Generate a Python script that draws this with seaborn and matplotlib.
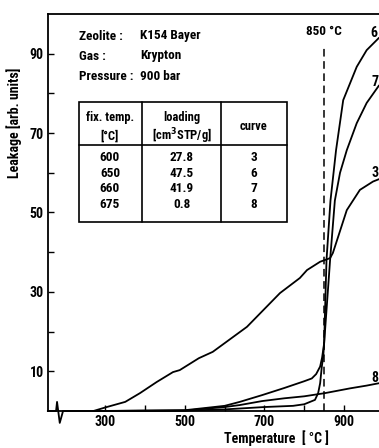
import numpy as np
import pandas as pd
import matplotlib
matplotlib.use("Agg")
import matplotlib.pyplot as plt
from matplotlib.lines import Line2D
from matplotlib.patches import Rectangle
from matplotlib import font_manager
import seaborn as sns

# ---------------- data ----------------
T3 = [270, 300, 350, 387, 429, 470, 487, 535, 570, 656, 739, 789, 807, 840, 865, 872, 885, 907, 940, 973, 988]
v3 = [0.0, 0.9, 2.3, 4.5, 7.3, 9.8, 10.3, 13.3, 14.9, 21.2, 29.7, 33.5, 35.5, 37.6, 38.5, 39.8, 43.8, 50.6, 55.7, 57.8, 58.4]

T6 = [280, 500, 600, 700, 772, 800, 827, 835, 840, 844, 848, 850, 856, 866, 880, 898, 932, 957, 988]
v6 = [0.0, 0.1, 0.4, 1.0, 1.3, 1.7, 2.8, 4.5, 7.0, 11.0, 14.0, 17.0, 38.0, 53.0, 65.7, 78.3, 86.7, 90.9, 94.0]

T7 = [280, 500, 555, 600, 638, 694, 750, 800, 819, 830, 840, 845, 850, 865, 877, 890, 907, 932, 957, 988]
v7 = [0.0, 0.2, 0.8, 1.3, 2.3, 4.0, 5.8, 7.5, 8.2, 9.3, 11.2, 13.5, 17.0, 38.0, 53.0, 60.0, 65.7, 72.5, 77.6, 82.0]

T8 = [280, 500, 555, 600, 638, 694, 750, 800, 852, 915, 957, 988]
v8 = [0.0, 0.1, 0.6, 1.0, 1.5, 2.5, 3.2, 3.7, 4.5, 5.7, 6.4, 7.0]

T_base = [155, 176, 178.5, 185.3, 193.6, 280]
v_base = [0.0, 0.0, 2.3, -3.0, 0.0, 0.0]

curve_ids = ["3", "6", "7", "8"]
label_T = [978, 975, 978, 978]
label_v = [60.0, 95.2, 82.9, 8.4]

mark_T = 850
mark_top = 92
mark_text = "850 °C"

x_ticks_major = [300, 500, 700, 900]
x_ticks_minor = [400, 600, 800]
y_ticks_major = [10, 30, 50, 70, 90]
y_ticks_minor = [20, 40, 60, 80]

info_keys = ["Zeolite :", "Gas :", "Pressure :"]
info_vals = ["K154 Bayer", "Krypton", "900 bar"]

tab_head1 = ["fix. temp.", "loading", ""]
tab_head2 = ["[°C]", "[cm$^3$STP/g]", ""]
tab_fix_temp = ["600", "650", "660", "675"]
tab_loading = ["27.8", "47.5", "41.9", "0.8"]
tab_curve = ["3", "6", "7", "8"]

# ---------------- build frame ----------------
frames = []
for cid, T, v in zip(["3", "6", "7", "8", "base"], [T3, T6, T7, T8, T_base], [v3, v6, v7, v8, v_base]):
    frames.append(pd.DataFrame({"T": T, "v": v, "curve": cid}))
df = pd.concat(frames, ignore_index=True)

# ---------------- style ----------------
sns.set_style("ticks")
names = {f.name for f in font_manager.fontManager.ttflist}
cands = ["Liberation Sans Narrow", "DejaVu Sans Condensed", "Roboto Condensed",
         "Open Sans Condensed", "Noto Sans Condensed", "DejaVu Sans"]
FONT = [c for c in cands if c in names] or ["DejaVu Sans"]
plt.rcParams["font.family"] = FONT
plt.rcParams["font.weight"] = "bold"
plt.rcParams["font.stretch"] = "condensed"
for k in ["text.color", "axes.labelcolor", "xtick.color", "ytick.color", "axes.edgecolor"]:
    plt.rcParams[k] = "black"

W, H = 379, 448
fig = plt.figure(figsize=(W / 100, H / 100), dpi=100)

def fx(x):
    return x / W

def fy(y):
    return 1 - y / H

ax_left, ax_right, ax_top, ax_bot = 47.7, 379.0, 14.0, 411.0
ax = fig.add_axes([fx(ax_left), fy(ax_bot), (ax_right - ax_left) / W, (ax_bot - ax_top) / H])

sns.lineplot(data=df, x="T", y="v", units="curve", estimator=None, sort=False,
             color="black", lw=1.3, ax=ax, legend=False)
for line in ax.get_lines():
    line.set_clip_on(False)

ax.vlines(mark_T, 0, mark_top, colors="black", linestyles=(0, (5, 3)), lw=1.1)

ax.set_xlim(155, 988)
ax.set_ylim(0, 100)
ax.set_xticks(x_ticks_major)
ax.set_xticks(x_ticks_minor, minor=True)
ax.set_yticks(y_ticks_major)
ax.set_yticks(y_ticks_minor, minor=True)
ax.tick_params(axis="both", which="both", direction="in", length=4, width=1.0, colors="black")
TS = 10
ax.tick_params(axis="y", which="major", pad=3, labelsize=TS)
ax.tick_params(axis="x", which="major", pad=3, labelsize=TS)
for lab in ax.get_xticklabels() + ax.get_yticklabels():
    lab.set_fontweight("bold")
ax.set_xlabel("")
ax.set_ylabel("")
ax.spines["right"].set_visible(False)
for s in ["left", "bottom", "top"]:
    ax.spines[s].set_linewidth(1.3)
    ax.spines[s].set_color("black")

# curve labels
for cid, tx, vy in zip(curve_ids, label_T, label_v):
    ax.text(tx, vy, cid, ha="center", va="center", fontsize=TS, fontweight="bold", clip_on=False)
ax.text(mark_T, 95.5, mark_text, ha="center", va="center", fontsize=9.5, fontweight="bold")

# axis labels
fig.text(fx(14), fy(123), "Leakage [arb. units]", rotation=90, ha="center", va="center",
         fontsize=10, fontweight="bold")
fig.text(fx(276), fy(438), "Temperature  [ °C ]", ha="center", va="center",
         fontsize=10, fontweight="bold")

# info block
IS = 9.5
for i, (k, v) in enumerate(zip(info_keys, info_vals)):
    yy = 36 + 20 * i
    fig.text(fx(79), fy(yy), k, ha="left", va="center", fontsize=IS, fontweight="bold")
    fig.text(fx(140), fy(yy), v, ha="left", va="center", fontsize=IS, fontweight="bold")

# table
tl, tr, tt, tb = 79, 287, 102, 222
hsep = 145
vseps = [142, 221]
fig.add_artist(Rectangle((fx(tl), fy(tb)), (tr - tl) / W, (tb - tt) / H, fill=False,
                         edgecolor="black", lw=1.2, transform=fig.transFigure))
fig.add_artist(Line2D([fx(tl), fx(tr)], [fy(hsep), fy(hsep)], color="black", lw=1.2,
                      transform=fig.transFigure))
for xs in vseps:
    fig.add_artist(Line2D([fx(xs), fx(xs)], [fy(tt), fy(tb)], color="black", lw=1.2,
                          transform=fig.transFigure))
HS = 9
col_x = [110, 182, 254]
for cx, h1, h2 in zip(col_x, tab_head1, tab_head2):
    if h1:
        fig.text(fx(cx), fy(117), h1, ha="center", va="center", fontsize=HS, fontweight="bold")
        fig.text(fx(cx), fy(136), h2, ha="center", va="center", fontsize=HS, fontweight="bold")
fig.text(fx(col_x[2]), fy(127), "curve", ha="center", va="center", fontsize=HS, fontweight="bold")
row_y = [157, 173, 189, 204]
for ry, a, b, c in zip(row_y, tab_fix_temp, tab_loading, tab_curve):
    for cx, t in zip(col_x, [a, b, c]):
        fig.text(fx(cx), fy(ry), t, ha="center", va="center", fontsize=9.5, fontweight="bold")

fig.savefig("out.png", dpi=100)
